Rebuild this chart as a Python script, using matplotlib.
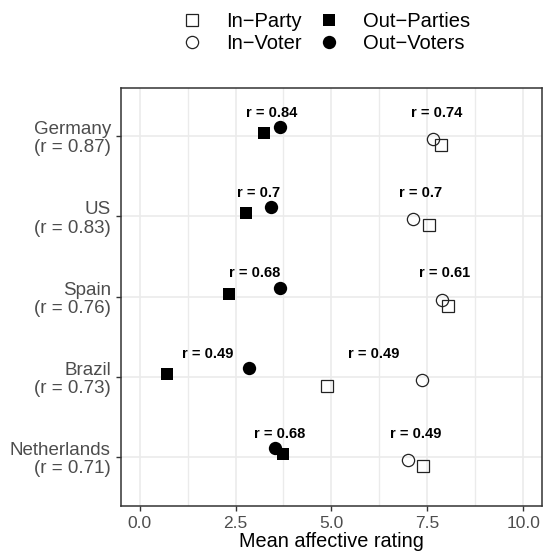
import matplotlib
matplotlib.use("Agg")
import matplotlib.pyplot as plt
from matplotlib.lines import Line2D
import numpy as np

plt.rcParams['font.family'] = ['Liberation Sans', 'DejaVu Sans']

countries = ["Germany", "US", "Spain", "Brazil", "Netherlands"]
country_r = ["0.87", "0.83", "0.76", "0.73", "0.71"]
in_party = [7.85, 7.55, 8.03, 4.88, 7.38]
in_voter = [7.66, 7.12, 7.88, 7.35, 7.00]
out_parties = [3.23, 2.77, 2.34, 0.71, 3.75]
out_voters = [3.66, 3.43, 3.66, 2.84, 3.53]
r_out = ["0.84", "0.7", "0.68", "0.49", "0.68"]
r_in = ["0.74", "0.7", "0.61", "0.49", "0.49"]
x_ticks = [0.0, 2.5, 5.0, 7.5, 10.0]
x_tick_labels = ["0.0", "2.5", "5.0", "7.5", "10.0"]

W, H = 543, 554
fig = plt.figure(figsize=(W / 100, H / 100), dpi=100)
ax = fig.add_axes([120.5 / W, 1 - 505.5 / H, (542.3 - 120.5) / W, (505.5 - 88) / H])

n = len(countries)
ypos = np.arange(n, 0, -1).astype(float)  # Germany at top

dodge = 0.3
off = {"out_voters": 3 * dodge / 8, "out_parties": dodge / 8,
       "in_voter": -dodge / 8, "in_party": -3 * dodge / 8}

ms_f = 9.0
ax.plot(out_voters, ypos + off["out_voters"], 'o', ms=9.6, mfc='black', mec='black', mew=0, ls='none', zorder=3)
ax.plot(out_parties, ypos + off["out_parties"], 's', ms=ms_f, mfc='black', mec='black', mew=0, ls='none', zorder=3)
ax.plot(in_voter, ypos + off["in_voter"], 'o', ms=8.8, mfc='none', mec='#222222', mew=0.9, ls='none', zorder=3)
ax.plot(in_party, ypos + off["in_party"], 's', ms=8.2, mfc='none', mec='#222222', mew=0.9, ls='none', zorder=3)

for i in range(n):
    xo = (out_parties[i] + out_voters[i]) / 2
    xi = (in_party[i] + in_voter[i]) / 2
    ax.text(xo, ypos[i] + 0.29, "r = " + r_out[i], ha='center', va='center',
            fontsize=10.5, fontweight='bold', color='black', zorder=4)
    ax.text(xi, ypos[i] + 0.29, "r = " + r_in[i], ha='center', va='center',
            fontsize=10.5, fontweight='bold', color='black', zorder=4)

ax.set_xlim(-0.5, 10.5)
ax.set_ylim(0.4, n + 0.6)
ax.set_xticks(x_ticks)
ax.set_xticklabels(x_tick_labels)
ax.set_xticks([1.25, 3.75, 6.25, 8.75], minor=True)
ax.set_yticks(ypos)
ax.set_yticklabels([f"{c}\n(r = {r})" for c, r in zip(countries, country_r)],
                   linespacing=1.08)

ax.grid(True, which='major', color='#EBEBEB', lw=1.2, zorder=0)
ax.grid(True, which='minor', axis='x', color='#EBEBEB', lw=1.0, zorder=0)
ax.set_axisbelow(True)
for s in ax.spines.values():
    s.set_color('#333333')
    s.set_linewidth(1.1)

ax.tick_params(axis='both', which='major', length=3.5, width=1.0, color='#333333',
               labelcolor='#4D4D4D')
ax.tick_params(axis='y', labelsize=13.5, pad=3.5)
ax.tick_params(axis='x', labelsize=12.5, pad=4.0)
ax.tick_params(axis='x', which='minor', length=0)
ax.set_xlabel("Mean affective rating", fontsize=14.3, color='black', labelpad=0.5)

handles = [
    Line2D([], [], marker='s', ls='none', ms=8.2, mfc='none', mec='#222222', mew=0.9),
    Line2D([], [], marker='o', ls='none', ms=8.8, mfc='none', mec='#222222', mew=0.9),
    Line2D([], [], marker='s', ls='none', ms=ms_f, mfc='black', mec='black', mew=0),
    Line2D([], [], marker='o', ls='none', ms=9.6, mfc='black', mec='black', mew=0),
]
labels = ["In\u2212Party", "In\u2212Voter", "Out\u2212Parties", "Out\u2212Voters"]
fig.legend(handles, labels, ncol=2, loc='upper left',
           bbox_to_anchor=(182.3 / W, 1 - 12 / H), frameon=False,
           fontsize=14.5, handlelength=1.0, handletextpad=1.2,
           columnspacing=0.83, labelspacing=0.15, borderpad=0, borderaxespad=0)

fig.savefig("out.png", dpi=100)
